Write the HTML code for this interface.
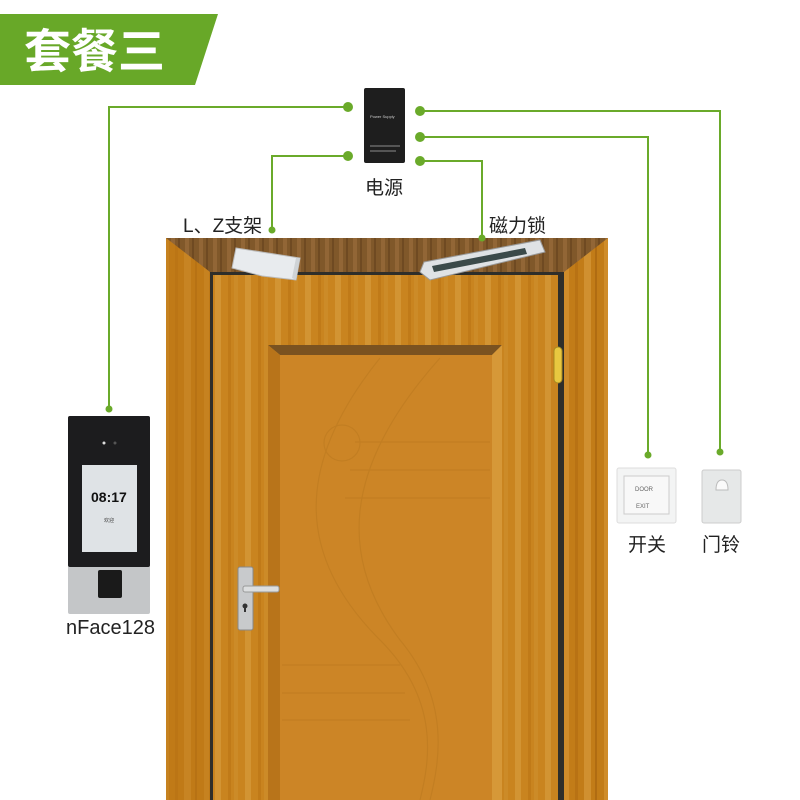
<!DOCTYPE html>
<html><head><meta charset="utf-8"><style>
html,body{margin:0;padding:0;background:#fff;}
svg{display:block}
text{font-family:"Liberation Sans","Noto Sans CJK SC",sans-serif;}
</style></head><body>
<svg width="800" height="800" viewBox="0 0 800 800" xmlns="http://www.w3.org/2000/svg">
<defs>
<pattern id="wood" width="40" height="10" patternUnits="userSpaceOnUse">
<rect width="40" height="10" fill="#c27c18"/>
<rect x="4" width="5" height="10" fill="#cf8c2a"/>
<rect x="15" width="3" height="10" fill="#b87214"/>
<rect x="24" width="7" height="10" fill="#d09030"/>
<rect x="35" width="2" height="10" fill="#b06c12"/>
</pattern>
<pattern id="wood2" width="30" height="10" patternUnits="userSpaceOnUse">
<rect width="30" height="10" fill="#c9841f"/>
<rect x="5" width="6" height="10" fill="#d29433"/>
<rect x="18" width="3" height="10" fill="#c07a18"/>
<rect x="24" width="4" height="10" fill="#cc8b28"/>
</pattern>
<pattern id="top" width="14" height="10" patternUnits="userSpaceOnUse">
<rect width="14" height="10" fill="#80582a"/>
<rect x="3" width="4" height="10" fill="#926636"/>
<rect x="10" width="2" height="10" fill="#6f4a22"/>
</pattern>
</defs>

<polygon points="0,14 218,14 195,85 0,85" fill="#68a828"/>
<text x="24" y="68" font-size="47" font-weight="bold" fill="#fff" font-family="'Noto Sans CJK SC',sans-serif">套餐三</text>

<rect x="166" y="238" width="442" height="562" fill="url(#wood)"/>
<polygon points="166,238 608,238 564,272 210,272" fill="url(#top)"/>
<polygon points="166,238 210,272 210,800 166,800" fill="#bd7716" opacity="0.5"/>
<rect x="210" y="272" width="354" height="528" fill="#2e2e2a"/>
<rect x="213" y="275" width="345" height="525" fill="url(#wood2)"/>
<polygon points="268,345 502,345 492,355 280,355" fill="#7a5220"/>
<polygon points="268,345 280,355 280,800 268,800" fill="#b8741a"/>
<polygon points="502,345 492,355 492,800 502,800" fill="#d69838"/>
<rect x="280" y="355" width="212" height="445" fill="#cc8526"/>
<g fill="none" stroke="#c07d22" stroke-width="1.2" opacity="0.8">
<path d="M380,358 C290,470 300,560 380,640 C440,700 430,760 420,800"/>
<path d="M440,358 C340,470 340,560 400,640 C450,700 440,760 430,800"/>
<circle cx="342" cy="443" r="18"/>
<line x1="355" y1="442" x2="490" y2="442"/>
<line x1="350" y1="470" x2="490" y2="470"/>
<line x1="345" y1="498" x2="490" y2="498"/>
<line x1="282" y1="665" x2="400" y2="665"/>
<line x1="282" y1="693" x2="405" y2="693"/>
<line x1="282" y1="720" x2="410" y2="720"/>
</g>
<rect x="554" y="347" width="8" height="36" rx="4" fill="#e8c840" stroke="#a88a20"/>
<rect x="238" y="567" width="15" height="63" rx="2" fill="#c8cacc" stroke="#888"/>
<rect x="243" y="586" width="36" height="6" rx="2" fill="#dcdedf" stroke="#999"/>
<circle cx="245" cy="606" r="2.5" fill="#333"/><rect x="244" y="606" width="2" height="6" fill="#333"/>

<polygon points="236,248 300,258 296,280 262,276 232,268" fill="#e8ebee" stroke="#bbb"/>
<polygon points="296,258 300,258 296,280 292,278" fill="#cfd3d6"/>
<polygon points="424,262 540,240 545,252 430,280 420,272" fill="#dfe2e5" stroke="#999"/>
<polygon points="432,266 525,248 527,254 434,272" fill="#3b4a4a"/>

<rect x="364" y="88" width="41" height="75" rx="2" fill="#1e1e1e"/>
<text x="370" y="118" font-size="4" fill="#ccc">Power Supply</text>
<rect x="370" y="145" width="30" height="2" fill="#555"/><rect x="370" y="150" width="26" height="2" fill="#555"/>

<g fill="none" stroke="#6aaa2a" stroke-width="2">
<polyline points="347,107 109,107 109,410"/>
<polyline points="347,156 272,156 272,230"/>
<polyline points="420,111 720,111 720,452"/>
<polyline points="420,137 648,137 648,455"/>
<polyline points="420,161 482,161 482,238"/>
</g>
<g fill="#6aaa2a">
<circle cx="348" cy="107" r="5"/><circle cx="348" cy="156" r="5"/>
<circle cx="420" cy="111" r="5"/><circle cx="420" cy="137" r="5"/><circle cx="420" cy="161" r="5"/>
<circle cx="109" cy="409" r="3.5"/><circle cx="272" cy="230" r="3.5"/><circle cx="482" cy="238" r="3.5"/>
<circle cx="648" cy="455" r="3.5"/><circle cx="720" cy="452" r="3.5"/>
</g>

<text x="365" y="194" font-size="19" fill="#222">电源</text>
<text x="183" y="232" font-size="19" fill="#222">L、Z支架</text>
<text x="489" y="232" font-size="19" fill="#222">磁力锁</text>

<rect x="68" y="416" width="82" height="198" rx="2" fill="#c4c6c8"/>
<rect x="68" y="416" width="82" height="151" rx="2" fill="#1c1c1e"/>
<circle cx="104" cy="443" r="1.5" fill="#ddd"/><circle cx="115" cy="443" r="1.5" fill="#555"/>
<rect x="82" y="465" width="55" height="87" fill="#dfe3e6"/>
<text x="91" y="502" font-size="14" font-weight="bold" fill="#111">08:17</text>
<text x="104" y="522" font-size="5" fill="#444">欢迎</text>
<rect x="98" y="570" width="24" height="28" rx="2" fill="#1a1a1a"/>
<text x="66" y="634" font-size="20" fill="#222">nFace128</text>

<rect x="617" y="468" width="59" height="55" rx="2" fill="#f3f4f4" stroke="#ddd"/>
<rect x="624" y="476" width="45" height="38" fill="#f8f8f8" stroke="#ccc"/>
<text x="635" y="491" font-size="6" fill="#666">DOOR</text>
<text x="636" y="508" font-size="6" fill="#666">EXIT</text>
<rect x="702" y="470" width="39" height="53" rx="2" fill="#e6e8e8" stroke="#ccc"/>
<path d="M716,490 Q716,480 722,480 Q728,480 728,490 Z" fill="#fafafa" stroke="#bbb"/>
<text x="628" y="551" font-size="19" fill="#222">开关</text>
<text x="702" y="551" font-size="19" fill="#222">门铃</text>
</svg>
</body></html>
